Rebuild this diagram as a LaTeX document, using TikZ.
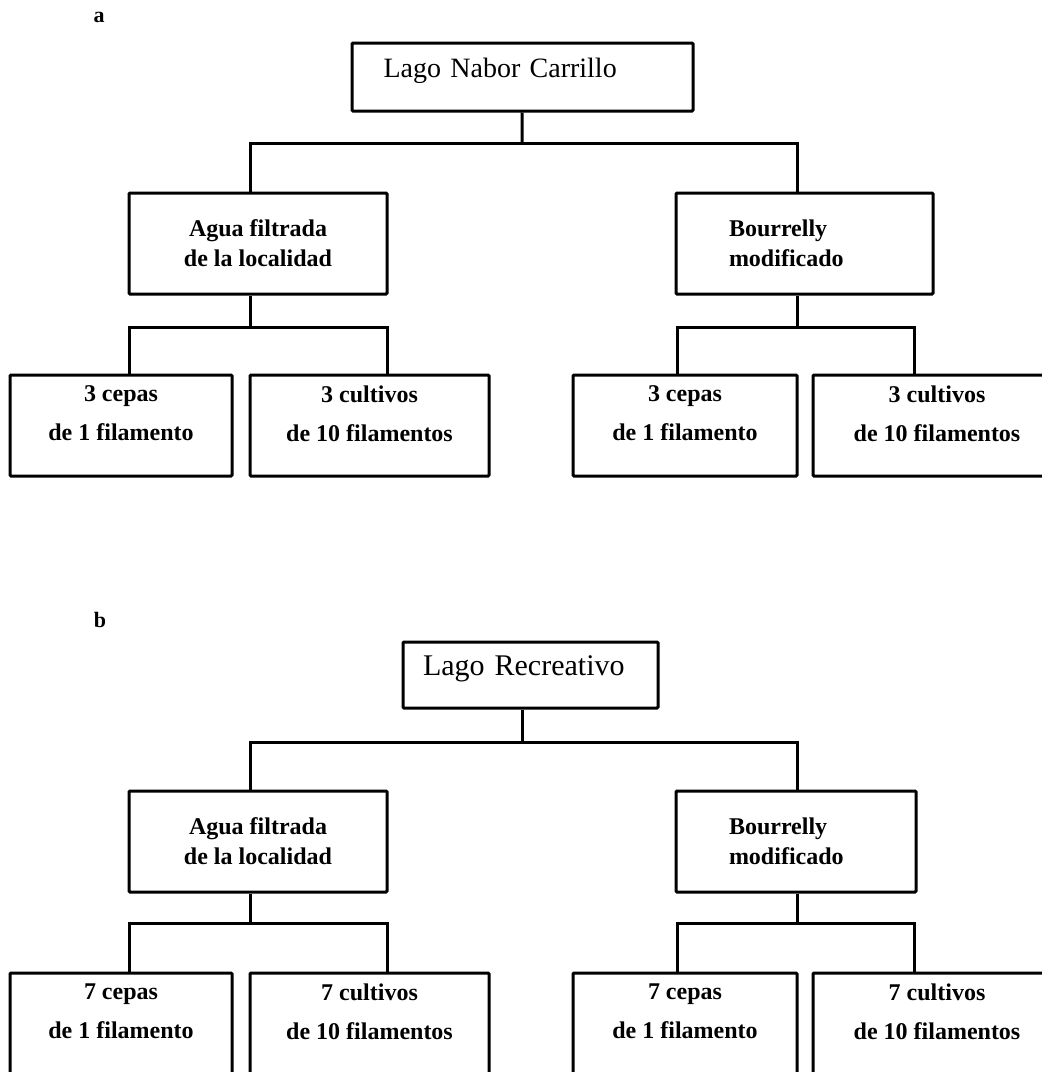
\documentclass[tikz,border=0pt]{standalone}
\usepackage{fontspec}
\setmainfont{Liberation Serif}

\begin{document}
\begin{tikzpicture}[x=1pt,y=-1pt,line width=3pt,
  box/.style={draw,rectangle,rounded corners=1pt,inner sep=0pt},
  lake/.style={box,font=\fontsize{28}{34}\selectfont,minimum height=68pt,align=left,text depth=18pt},
  medium/.style={box,font=\bfseries\fontsize{24}{30}\selectfont,minimum height=101pt,align=center},
  sample/.style={box,font=\bfseries\fontsize{24}{39}\selectfont,minimum height=101pt,align=center,text depth=24pt},
  panel/.style={font=\bfseries\fontsize{22}{26}\selectfont}]

\useasboundingbox (0,0) rectangle (1042,1072);

\node[panel] (pa) at (99,17) {a};
\node[lake,minimum width=341pt,text width=278pt] (lnc) at (522.5,77) {Lago Nabor Carrillo};
\node[medium,minimum width=258pt] (aguaa) at (258,243.5) {Agua filtrada\\de la localidad};
\node[medium,minimum width=257pt,text width=151pt,align=left] (boura) at (804.5,243.5) {Bourrelly\\modificado};
\node[sample,minimum width=222pt] (cepasa1) at (121,425.5) {3 cepas\\de 1 filamento};
\node[sample,minimum width=239pt] (cultivosa1) at (369.5,425.5) {3 cultivos\\de 10 filamentos};
\node[sample,minimum width=224pt] (cepasa2) at (685,425.5) {3 cepas\\de 1 filamento};
\node[sample,minimum width=248pt] (cultivosa2) at (937,425.5) {3 cultivos\\de 10 filamentos};

\coordinate (ja)  at (522,143);
\coordinate (jaL) at (250,143);
\coordinate (jaR) at (797,143);
\coordinate (ka)  at (250,327);
\coordinate (kaL) at (129,327);
\coordinate (kaR) at (387,327);
\coordinate (ma)  at (797,327);
\coordinate (maL) at (677,327);
\coordinate (maR) at (914,327);

\draw (lnc) -- (ja);
\draw (jaL |- aguaa.north) -- (jaL) -- (jaR) -- (jaR |- boura.north);
\draw (aguaa.south -| ka) -- (ka);
\draw (kaL |- cepasa1.north) -- (kaL) -- (kaR) -- (kaR |- cultivosa1.north);
\draw (boura.south -| ma) -- (ma);
\draw (maL |- cepasa2.north) -- (maL) -- (maR) -- (maR |- cultivosa2.north);

\node[panel] (pb) at (100,620) {b};
\node[lake,minimum width=255pt,minimum height=66pt,text width=215pt,font=\fontsize{30}{36}\selectfont] (lr) at (530.5,675) {Lago Recreativo};
\node[medium,minimum width=258pt] (aguab) at (258,841.5) {Agua filtrada\\de la localidad};
\node[medium,minimum width=240pt,text width=134pt,align=left] (bourb) at (796,841.5) {Bourrelly\\modificado};
\node[sample,minimum width=222pt,minimum height=121pt,text depth=44pt] (cepasb1) at (121,1033.5) {7 cepas\\de 1 filamento};
\node[sample,minimum width=239pt,minimum height=121pt,text depth=44pt] (cultivosb1) at (369.5,1033.5) {7 cultivos\\de 10 filamentos};
\node[sample,minimum width=224pt,minimum height=121pt,text depth=44pt] (cepasb2) at (685,1033.5) {7 cepas\\de 1 filamento};
\node[sample,minimum width=248pt,minimum height=121pt,text depth=44pt] (cultivosb2) at (937,1033.5) {7 cultivos\\de 10 filamentos};

\coordinate (jb)  at (522,742);
\coordinate (jbL) at (250,742);
\coordinate (jbR) at (797,742);
\coordinate (kb)  at (250,923);
\coordinate (kbL) at (129,923);
\coordinate (kbR) at (387,923);
\coordinate (mb)  at (797,923);
\coordinate (mbL) at (677,923);
\coordinate (mbR) at (914,923);

\draw (lr.south -| jb) -- (jb);
\draw (jbL |- aguab.north) -- (jbL) -- (jbR) -- (jbR |- bourb.north);
\draw (aguab.south -| kb) -- (kb);
\draw (kbL |- cepasb1.north) -- (kbL) -- (kbR) -- (kbR |- cultivosb1.north);
\draw (bourb.south -| mb) -- (mb);
\draw (mbL |- cepasb2.north) -- (mbL) -- (mbR) -- (mbR |- cultivosb2.north);

\end{tikzpicture}
\end{document}
